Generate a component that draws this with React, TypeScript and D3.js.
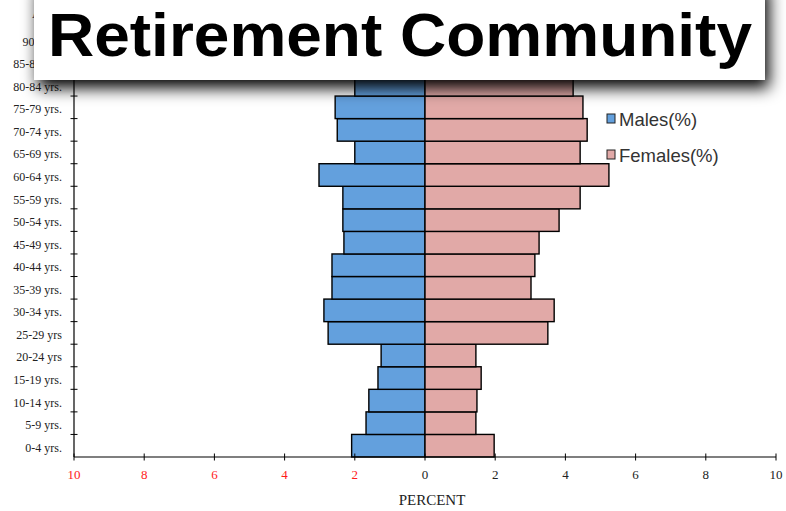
import React, { useEffect, useRef } from 'react';
import * as d3 from 'd3';

const ageGroups = [
  '0-4 yrs.', '5-9 yrs.', '10-14 yrs.', '15-19 yrs.', '20-24 yrs', '25-29 yrs',
  '30-34 yrs.', '35-39 yrs.', '40-44 yrs.', '45-49 yrs.', '50-54 yrs.', '55-59 yrs.',
  '60-64 yrs.', '65-69 yrs.', '70-74 yrs.', '75-79 yrs.', '80-84 yrs.', '85-89 yrs.', '90+ yrs.',
];
const males = [2.09, 1.68, 1.6, 1.34, 1.25, 2.76, 2.88, 2.65, 2.65, 2.31, 2.34, 2.34, 3.02, 2.0, 2.5, 2.56, 2.0, 1.3, 0.6];
const females = [1.97, 1.45, 1.48, 1.6, 1.45, 3.5, 3.68, 3.02, 3.13, 3.25, 3.82, 4.42, 5.24, 4.42, 4.62, 4.5, 4.22, 3.0, 1.6];
const xTicks = [-10, -8, -6, -4, -2, 0, 2, 4, 6, 8, 10];
const legendItems = ['Males(%)', 'Females(%)'];
const title = 'Retirement Community';

const MALE = '#63a0dd';
const FEMALE = '#e1a9a7';

export default function App() {
  const svgRef = useRef<SVGSVGElement>(null);

  useEffect(() => {
    if (!svgRef.current) return;
    const svg = d3.select(svgRef.current);
    svg.selectAll('*').remove();

    const left = 74;
    const right = 776;
    const bottom = 457;
    const step = 22.56;
    const top = bottom - step * ageGroups.length;

    const x = d3.scaleLinear().domain([-10, 10]).range([left, right]);
    const y = d3
      .scaleBand()
      .domain(ageGroups)
      .range([bottom, top])
      .padding(0);

    // shadow filter for title box
    const defs = svg.append('defs');
    const f = defs
      .append('filter')
      .attr('id', 'box-shadow')
      .attr('x', '-10%')
      .attr('y', '-30%')
      .attr('width', '120%')
      .attr('height', '190%');
    f.append('feDropShadow')
      .attr('dx', 4)
      .attr('dy', 8)
      .attr('stdDeviation', 8)
      .attr('flood-color', '#000')
      .attr('flood-opacity', 1);

    // bars
    const rows = svg.append('g');
    ageGroups.forEach((g, i) => {
      rows
        .append('rect')
        .attr('x', x(-males[i]))
        .attr('y', y(g)!)
        .attr('width', x(0) - x(-males[i]))
        .attr('height', y.bandwidth())
        .attr('fill', MALE)
        .attr('stroke', '#000')
        .attr('stroke-width', 1.4);
      rows
        .append('rect')
        .attr('x', x(0))
        .attr('y', y(g)!)
        .attr('width', x(females[i]) - x(0))
        .attr('height', y.bandwidth())
        .attr('fill', FEMALE)
        .attr('stroke', '#000')
        .attr('stroke-width', 1.4);
    });

    // X axis
    svg.append('line')
      .attr('x1', left).attr('x2', right)
      .attr('y1', bottom).attr('y2', bottom)
      .attr('stroke', '#000').attr('stroke-width', 1.2);
    xTicks.forEach((t) => {
      svg.append('line')
        .attr('x1', x(t)).attr('x2', x(t))
        .attr('y1', bottom - 3.5).attr('y2', bottom + 3.5)
        .attr('stroke', '#000').attr('stroke-width', 1);
      svg.append('text')
        .attr('x', x(t))
        .attr('y', bottom + 22)
        .attr('text-anchor', 'middle')
        .style('font-family', '"Liberation Serif", "Times New Roman", serif')
        .style('font-size', '13px')
        .style('fill', t < 0 ? '#ff1a1a' : '#222')
        .text(Math.abs(t));
    });

    // Y axis
    svg.append('line')
      .attr('x1', left).attr('x2', left)
      .attr('y1', top).attr('y2', bottom)
      .attr('stroke', '#000').attr('stroke-width', 1.2);
    d3.range(1, ageGroups.length + 1).forEach((k) => {
      const yy = bottom - k * step;
      svg.append('line')
        .attr('x1', left - 3.5).attr('x2', left + 3.5)
        .attr('y1', yy).attr('y2', yy)
        .attr('stroke', '#000').attr('stroke-width', 1);
    });
    ageGroups.forEach((g) => {
      svg.append('text')
        .attr('x', 62)
        .attr('y', y(g)! + y.bandwidth() / 2 + 6)
        .attr('text-anchor', 'end')
        .style('font-family', '"Liberation Serif", "Times New Roman", serif')
        .style('font-size', '12px')
        .style('fill', '#222')
        .text(g);
    });
    svg.append('text')
      .attr('x', 32)
      .attr('y', 18)
      .style('font-family', '"Liberation Serif", "Times New Roman", serif')
      .style('font-size', '12px')
      .style('fill', '#222')
      .text('AGE');

    svg.append('text')
      .attr('x', 432)
      .attr('y', 505)
      .attr('text-anchor', 'middle')
      .style('font-family', '"Liberation Serif", "Times New Roman", serif')
      .style('font-size', '15px')
      .style('fill', '#222')
      .text('PERCENT');

    // Legend
    const colors = [MALE, FEMALE];
    legendItems.forEach((name, i) => {
      const ly = 119 + i * 36;
      svg.append('rect')
        .attr('x', 607).attr('y', ly - 5)
        .attr('width', 8).attr('height', 9)
        .attr('fill', colors[i])
        .attr('stroke', '#222').attr('stroke-width', 1);
      svg.append('text')
        .attr('x', 619)
        .attr('y', ly + 7)
        .style('font-family', '"Liberation Sans", Arial, sans-serif')
        .style('font-size', '18.5px')
        .style('fill', '#333')
        .text(name);
    });

    // Title box
    svg.append('rect')
      .attr('x', 34).attr('y', -20)
      .attr('width', 731).attr('height', 100)
      .attr('fill', '#fff')
      .attr('filter', 'url(#box-shadow)');
    svg.append('text')
      .attr('x', 48)
      .attr('y', 56)
      .attr('textLength', 704)
      .attr('lengthAdjust', 'spacingAndGlyphs')
      .style('font-family', '"Liberation Sans", Arial, sans-serif')
      .style('font-weight', 'bold')
      .style('font-size', '62px')
      .style('fill', '#000')
      .text(title);
  }, []);

  return (
    <svg
      ref={svgRef}
      width={786}
      height={511}
      style={{ position: 'absolute', left: 0, top: 0, background: '#fff' }}
    />
  );
}
